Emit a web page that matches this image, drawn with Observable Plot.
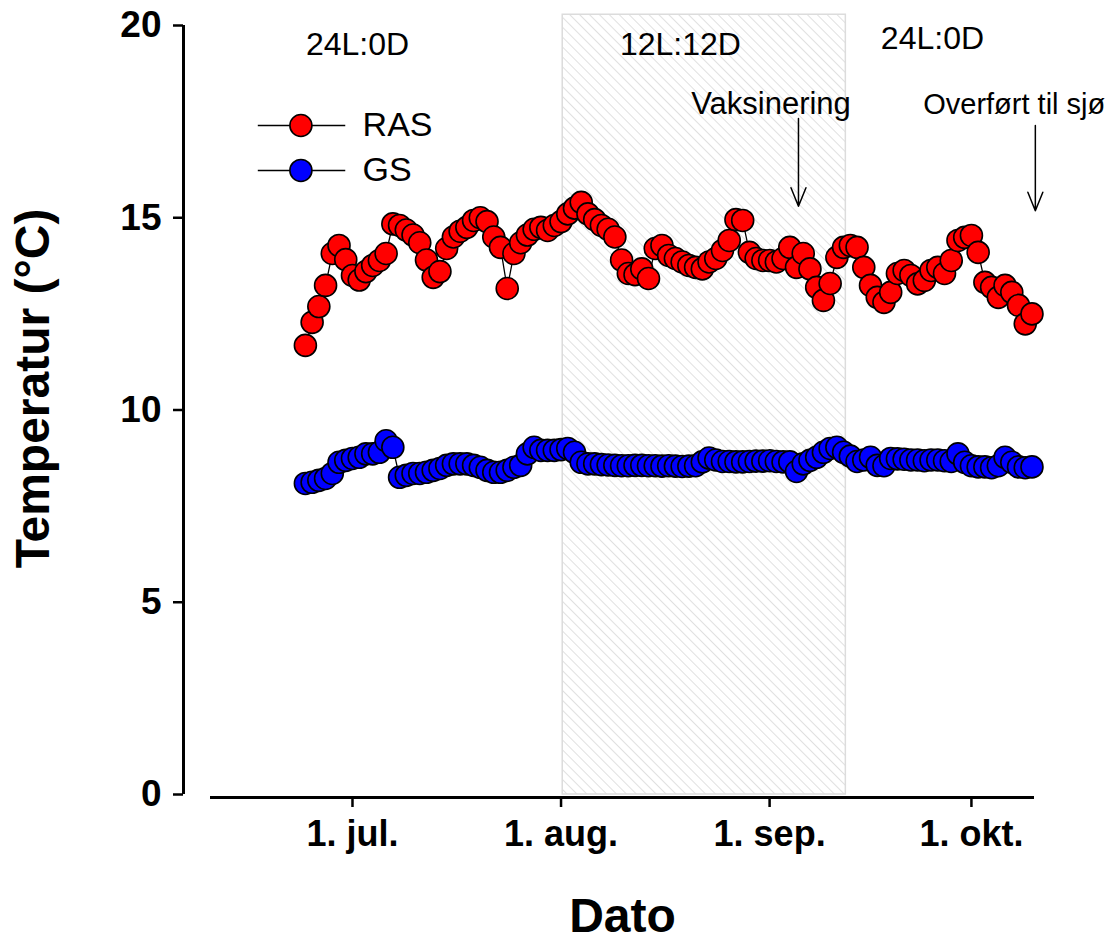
<!DOCTYPE html>
<html>
<head>
<meta charset="utf-8">
<script src="https://cdn.jsdelivr.net/npm/d3@7"></script>
<script src="https://cdn.jsdelivr.net/npm/@observablehq/plot@0.6"></script>
<style>
  body { margin: 0; background: #fff; }
  #chart { width: 1116px; height: 941px; overflow: hidden; }
</style>
</head>
<body>
<div id="chart"></div>
<script>
// ---------- DATA ----------
const firstDay = "2017-06-24";           // daily readings from 24. jun to 10. okt
const rasTemp = [
  11.68, 12.28, 12.69, 13.24, 14.07, 14.28, 13.91,
  13.5, 13.38, 13.6, 13.76, 13.89, 14.07, 14.84, 14.8, 14.68, 14.55,
  14.35, 13.9, 13.45, 13.6, 14.2, 14.5, 14.65, 14.75, 14.93, 15.0,
  14.9, 14.5, 14.23, 13.16, 14.07, 14.35, 14.55, 14.7, 14.75, 14.67, 14.8,
  14.9, 15.1, 15.25, 15.4, 15.1, 14.95, 14.8, 14.7, 14.5, 13.9,
  13.55, 13.52, 13.67, 13.42, 14.2, 14.28, 14.02, 13.94, 13.85, 13.76,
  13.71, 13.67, 13.85, 13.94, 14.15, 14.41, 14.95, 14.93, 14.1, 13.94, 13.89,
  13.89, 13.85, 13.94, 14.23, 13.71, 14.07, 13.67, 13.19, 12.85, 13.29,
  13.97, 14.23, 14.28, 14.23, 13.71, 13.24, 12.93, 12.8, 13.06, 13.55,
  13.63, 13.5, 13.28, 13.37, 13.63, 13.71, 13.55, 13.89, 14.41, 14.49,
  14.54, 14.1, 13.32, 13.19, 12.93, 13.24, 13.06, 12.72, 12.24, 12.5
];
const gsTemp = [
  8.09, 8.12, 8.17, 8.22, 8.35, 8.64, 8.69,
  8.74, 8.77, 8.86, 8.86, 8.9, 9.2, 9.03, 8.25, 8.3, 8.35,
  8.35, 8.38, 8.43, 8.48, 8.56, 8.6, 8.6, 8.6, 8.56, 8.51,
  8.43, 8.38, 8.38, 8.43, 8.51, 8.56, 8.86, 9.03, 8.95, 8.95, 8.95,
  8.97, 9.0, 8.9, 8.64, 8.6,
  8.6, 8.58, 8.57, 8.56, 8.55, 8.55, 8.56, 8.56, 8.55, 8.55, 8.54, 8.55, 8.54, 8.53, 8.54, 8.55,
  8.65, 8.75, 8.7,
  8.66, 8.66, 8.65, 8.65, 8.66, 8.67, 8.67,
  8.68, 8.66, 8.65, 8.65, 8.4, 8.6, 8.69, 8.77, 8.9, 9.0,
  9.03, 8.9, 8.8, 8.66, 8.7, 8.77, 8.56, 8.55, 8.74,
  8.73, 8.72, 8.7, 8.7, 8.68, 8.7, 8.7, 8.68, 8.66, 8.86, 8.64,
  8.55, 8.52, 8.52, 8.5, 8.55, 8.77, 8.64, 8.52, 8.5, 8.52
];
const seriesNames = ["RAS", "GS"];
const seriesColors = ["#ff0000", "#0000ff"];

const xTickDates = ["2017-07-01", "2017-08-01", "2017-09-01", "2017-10-01"];
const xTickLabels = ["1. jul.", "1. aug.", "1. sep.", "1. okt."];
const yTicks = [0, 5, 10, 15, 20];
const xDomain = ["2017-06-09T21:30", "2017-10-10T09:00"];
const yDomain = [0, 20];

// 12L:12D period, shaded
const darkPeriod = [{start: "2017-08-01T06:00", end: "2017-09-12T08:00", top: 20.28}];

const regimeLabels = [
  {text: "24L:0D",  date: "2017-07-01T18:00", y: 19.5},
  {text: "12L:12D", date: "2017-08-18T18:00", y: 19.5},
  {text: "24L:0D",  date: "2017-09-25T05:00", y: 19.66}
];
const eventLabelsMiddle = [{text: "Vaksinering", date: "2017-09-01T05:00", y: 17.95}];
const eventLabelsStart = [{text: "Overført til sjø", date: "2017-09-23T20:00", y: 17.95}];
const arrows = [
  {date: "2017-09-05T07:00", y1: 17.58, y2: 15.3},
  {date: "2017-10-10T12:00", y1: 17.4,  y2: 15.18}
];
const legendRows = [
  {name: "RAS", color: "#ff0000", y: 17.4},
  {name: "GS",  color: "#0000ff", y: 16.23}
];
const legendLine = {from: "2017-06-17T00:00", to: "2017-06-30T00:00", dot: "2017-06-23T08:00", text: "2017-07-02T12:00"};
const yTitle = [{text: "Temperatur (°C)", date: "2017-05-14T14:00", y: 10.56}];
const xTitle = "Dato";

// ---------- BUILD ----------
const D = s => new Date(s.length <= 10 ? s + "T00:00Z" : s + "Z");
const t0 = D(firstDay);
const makeSeries = (vals, name) => vals.map((v, i) => ({date: d3.utcDay.offset(t0, i), v, name}));
const ras = makeSeries(rasTemp, seriesNames[0]);
const gs = makeSeries(gsTemp, seriesNames[1]);
const tickDates = xTickDates.map(D);
const tickLabelMap = new Map(tickDates.map((d, i) => [+d, xTickLabels[i]]));
const font = "Arial, 'Liberation Sans', Helvetica, sans-serif";

const x0 = D(xDomain[0]), x1 = D(xDomain[1]);

const chart = Plot.plot({
  width: 1116,
  height: 941,
  marginLeft: 210,
  marginRight: 82,
  marginTop: 25,
  marginBottom: 147,
  style: {fontFamily: font, background: "#fff", overflow: "visible"},
  x: {type: "utc", domain: [x0, x1]},
  y: {domain: yDomain},
  marks: [
    Plot.rect(darkPeriod, {
      x1: d => D(d.start), x2: d => D(d.end), y1: 0, y2: d => d.top,
      fill: "url(#hatch)", stroke: "#dcdcdc", strokeWidth: 1.5
    }),
    // axes
    Plot.ruleX([x0], {y1: 0, y2: 20, dx: -27, stroke: "#000", strokeWidth: 3}),
    Plot.axisY({
      ticks: yTicks, dx: -27, tickSize: 10, tickPadding: 12, strokeWidth: 2.5,
      fontSize: 37, fontWeight: "bold", label: null
    }),
    Plot.ruleY([0], {x1: x0, x2: x1, dy: 3, stroke: "#000", strokeWidth: 3}),
    Plot.axisX({
      ticks: tickDates, tickFormat: d => tickLabelMap.get(+d), dy: 3,
      tickSize: 10, tickPadding: 13, strokeWidth: 2.5,
      fontSize: 36, fontWeight: "bold", label: null
    }),
    // axis titles
    Plot.text(yTitle, {
      x: d => D(d.date), y: "y", text: "text", rotate: -90,
      fontSize: 48, fontWeight: "bold", fill: "#000"
    }),
    Plot.text([xTitle], {
      frameAnchor: "bottom", dy: 137, fontSize: 48, fontWeight: "bold", fill: "#000"
    }),
    // series
    Plot.line(ras, {x: "date", y: "v", stroke: "#000", strokeWidth: 1.3}),
    Plot.dot(ras, {x: "date", y: "v", r: 11, fill: seriesColors[0], stroke: "#000", strokeWidth: 1.6}),
    Plot.line(gs, {x: "date", y: "v", stroke: "#000", strokeWidth: 1.3}),
    Plot.dot(gs, {x: "date", y: "v", r: 11, fill: seriesColors[1], stroke: "#000", strokeWidth: 1.6}),
    // annotations
    Plot.text(regimeLabels, {x: d => D(d.date), y: "y", text: "text", fontSize: 32, fill: "#000"}),
    Plot.text(eventLabelsMiddle, {x: d => D(d.date), y: "y", text: "text", fontSize: 31, fill: "#000"}),
    Plot.text(eventLabelsStart, {x: d => D(d.date), y: "y", text: "text", textAnchor: "start", fontSize: 29, fill: "#000"}),
    Plot.arrow(arrows, {
      x1: d => D(d.date), x2: d => D(d.date), y1: "y1", y2: "y2",
      stroke: "#000", strokeWidth: 1.5, headLength: 20, headAngle: 44
    }),
    // legend
    Plot.ruleY(legendRows, {y: "y", x1: D(legendLine.from), x2: D(legendLine.to), stroke: "#000", strokeWidth: 1.5}),
    Plot.dot(legendRows, {x: D(legendLine.dot), y: "y", r: 11, fill: "color", stroke: "#000", strokeWidth: 1.6}),
    Plot.text(legendRows, {x: D(legendLine.text), y: "y", text: "name", textAnchor: "start", fontSize: 34, fill: "#000"})
  ]
});

// hatch pattern for the shaded period
const ns = "http://www.w3.org/2000/svg";
const defs = document.createElementNS(ns, "defs");
defs.innerHTML = '<pattern id="hatch" patternUnits="userSpaceOnUse" width="7" height="7" patternTransform="rotate(-45)">' +
  '<rect width="7" height="7" fill="#fff"/>' +
  '<line x1="0" y1="0" x2="0" y2="7" stroke="#cfcfcf" stroke-width="1.3"/></pattern>';
chart.insertBefore(defs, chart.firstChild);

document.getElementById("chart").appendChild(chart);
</script>
</body>
</html>
